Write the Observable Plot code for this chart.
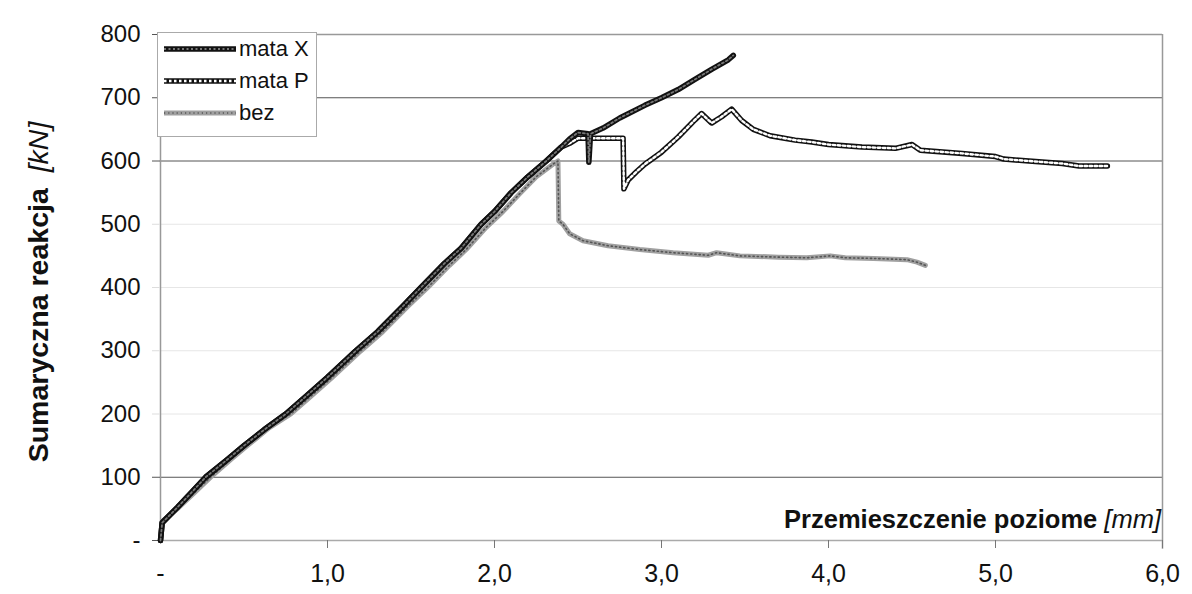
<!DOCTYPE html>
<html>
<head>
<meta charset="utf-8">
<script src="https://cdn.jsdelivr.net/npm/d3@7"></script>
<script src="https://cdn.jsdelivr.net/npm/@observablehq/plot@0.6"></script>
<style>
  html, body { margin: 0; padding: 0; background: #fff; }
  #wrap { position: relative; width: 1192px; height: 594px; font-family: "Liberation Sans", Arial, sans-serif; }
  #chart svg text { font-size: 24px; fill: #111; }
  #chart svg g[aria-label="x-axis tick label"] text { font-size: 25px; }
  #legend { position: absolute; left: 157px; top: 32px; width: 160px; height: 105px; background: #fff; border: 1px solid #aaa; box-sizing: border-box; }
  .lrow { position: absolute; left: 5px; height: 26px; display: flex; align-items: center; font-size: 22px; color: #111; }
  .lrow svg { margin-right: 2px; }
  #ytitle { position: absolute; left: 38px; top: 292px; transform: translate(-50%, -50%) rotate(-90deg); white-space: nowrap; font-size: 28.5px; font-weight: bold; color: #111; }
  #xtitle { position: absolute; right: 31px; top: 505px; white-space: nowrap; font-size: 25.5px; font-weight: bold; color: #111; }
  .it { font-style: italic; font-weight: normal; }
</style>
</head>
<body>
<div id="wrap">
  <div id="chart"></div>
  <div id="ytitle">Sumaryczna reakcja <span class="it">&nbsp;[kN]</span></div>
  <div id="xtitle">Przemieszczenie poziome <span class="it">[mm]</span></div>
  <div id="legend"></div>
</div>
<script>
// ---- data ----
const seriesNames = ["mata X", "mata P", "bez"];
const xTicks = [0, 1, 2, 3, 4, 5, 6];
const yTicks = [0, 100, 200, 300, 400, 500, 600, 700, 800];
const darkGrid = [100, 600, 700];
const lightGrid = [200, 300, 400, 500];

const risingPart = [[0,0],[0.01,28],[0.1,52],[0.2,80],[0.27,100],[0.4,128],[0.5,150],[0.62,175],[0.75,200],[0.88,230],[1.0,258],[1.17,300],[1.3,330],[1.45,370],[1.56,400],[1.7,438],[1.8,462],[1.92,500],[2.0,520],[2.1,550],[2.2,575],[2.31,600],[2.4,622]];

const mataX = [[2.45,635],[2.5,645],[2.56,643],[2.565,598],[2.575,643],[2.65,652],[2.75,668],[2.9,688],[3.0,700],[3.1,713],[3.2,729],[3.3,745],[3.4,760],[3.43,767]];

const mataP = [[2.45,628],[2.5,636],[2.77,636],[2.775,556],[2.8,570],[2.85,583],[2.9,595],[3.0,614],[3.1,638],[3.2,665],[3.24,675],[3.3,660],[3.36,670],[3.42,682],[3.48,664],[3.55,650],[3.65,640],[3.8,633],[3.9,630],[4.0,626],[4.2,622],[4.4,620],[4.5,626],[4.55,617],[4.8,612],[5.0,607],[5.05,603],[5.2,600],[5.4,596],[5.5,592],[5.67,592]];

const bez = [[0,0],[0.01,30],[0.1,50],[0.2,75],[0.3,100],[0.42,128],[0.52,150],[0.65,178],[0.78,200],[0.9,228],[1.02,256],[1.2,300],[1.33,330],[1.48,370],[1.6,400],[1.73,435],[1.83,460],[1.95,495],[2.05,520],[2.15,548],[2.25,575],[2.35,595],[2.38,600],[2.385,505],[2.41,500],[2.45,485],[2.53,474],[2.68,466],[2.87,460],[3.07,455],[3.28,451],[3.33,455],[3.47,450],[3.7,448],[3.87,447],[4.01,450],[4.1,447],[4.27,446],[4.47,444],[4.53,440],[4.58,435]];

// ---- build ----
const toRows = (pts, name) => pts.map(([x, y]) => ({x, y, s: name}));
const rowsX = toRows(risingPart.concat(mataX), seriesNames[0]);
const rowsP = toRows(risingPart.concat(mataP), seriesNames[1]);
const rowsB = toRows(bez, seriesNames[2]);

const styles = {
  "mata X": [{stroke: "#111", strokeWidth: 5.5}, {stroke: "#777", strokeWidth: 1.8, strokeDasharray: "2,2.5"}],
  "mata P": [{stroke: "#111", strokeWidth: 5.5}, {stroke: "#fff", strokeWidth: 2.4, strokeDasharray: "2.5,2.5"}],
  "bez":    [{stroke: "#a0a0a0", strokeWidth: 5}, {stroke: "#555", strokeWidth: 1.6, strokeDasharray: "1.2,3"}]
};
const lineMarks = (rows, name) => styles[name].map(st => Plot.line(rows, {x: "x", y: "y", curve: "linear", strokeLinejoin: "round", ...st}));

const fmtX = d => d === 0 ? "-" : d.toFixed(1).replace(".", ",");
const fmtY = d => d === 0 ? "-" : String(d);

const chart = Plot.plot({
  width: 1192,
  height: 594,
  marginLeft: 160,
  marginRight: 30,
  marginTop: 34,
  marginBottom: 54,
  style: {fontFamily: "'Liberation Sans', Arial, sans-serif", fontSize: "24px", color: "#111", background: "#fff"},
  x: {domain: [0, 6], label: null},
  y: {domain: [0, 800], label: null},
  marks: [
    Plot.ruleY(lightGrid, {stroke: "#e6e6e6", strokeWidth: 1}),
    Plot.ruleY(darkGrid, {stroke: "#555", strokeWidth: 1}),
    Plot.ruleY([800], {stroke: "#999", strokeWidth: 1.5}),
    Plot.ruleX([6], {y1: -14, y2: 800, stroke: "#999", strokeWidth: 1.5}),
    Plot.ruleX([0], {stroke: "#999", strokeWidth: 1.5}),
    Plot.ruleY([0], {stroke: "#aaa", strokeWidth: 1.5}),
    Plot.axisY(darkGrid.concat([800, 0]), {tickSize: 8, stroke: "#555", text: null, label: null}),
    Plot.axisY(lightGrid, {tickSize: 8, stroke: "#ddd", text: null, label: null}),
    Plot.axisY(yTicks, {tickSize: 0, tickPadding: 20, tickFormat: fmtY, label: null}),
    Plot.axisX(xTicks.slice(1), {tickSize: 8, stroke: "#777", text: null, label: null}),
    Plot.axisX(xTicks, {tickSize: 0, tickPadding: 24, tickFormat: fmtX, label: null}),
    ...lineMarks(rowsB, "bez"),
    ...lineMarks(rowsP, "mata P"),
    ...lineMarks(rowsX, "mata X")
  ]
});
document.getElementById("chart").appendChild(chart);

// ---- legend ----
const legend = document.getElementById("legend");
seriesNames.forEach((name, i) => {
  const row = document.createElement("div");
  row.className = "lrow";
  row.style.top = (3 + i * 32) + "px";
  const ns = "http://www.w3.org/2000/svg";
  const svg = document.createElementNS(ns, "svg");
  svg.setAttribute("width", 74); svg.setAttribute("height", 10);
  styles[name].forEach(st => {
    const l = document.createElementNS(ns, "line");
    l.setAttribute("x1", 1); l.setAttribute("x2", 73); l.setAttribute("y1", 5); l.setAttribute("y2", 5);
    l.setAttribute("stroke", st.stroke);
    l.setAttribute("stroke-width", st.strokeWidth);
    if (st.strokeDasharray) l.setAttribute("stroke-dasharray", st.strokeDasharray);
    svg.appendChild(l);
  });
  row.appendChild(svg);
  const t = document.createElement("span");
  t.textContent = name;
  row.appendChild(t);
  legend.appendChild(row);
});
</script>
</body>
</html>
